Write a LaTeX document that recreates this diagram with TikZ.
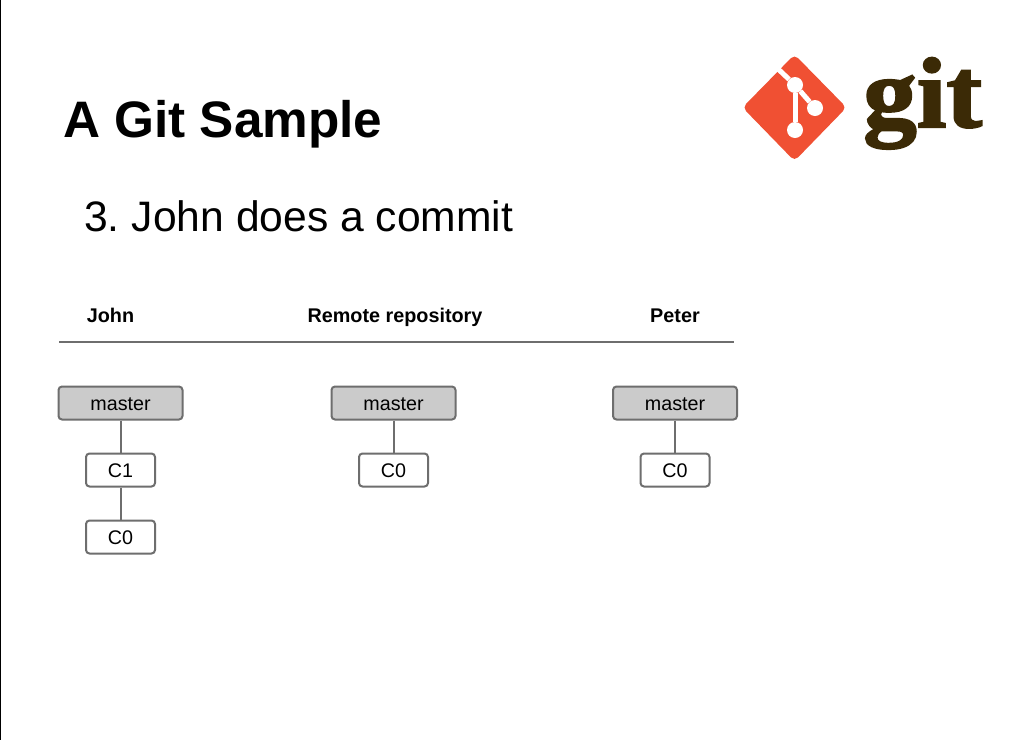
\documentclass[tikz,border=0pt]{standalone}
\usepackage{fontspec}
\setmainfont{Liberation Sans}
\newfontfamily\logofont{Liberation Serif}[BoldFeatures={FakeBold=2}]
\definecolor{gitred}{HTML}{F05033}
\definecolor{gitbrown}{HTML}{3B2A06}
\definecolor{edgegray}{HTML}{6E6E6E}
\definecolor{branchfill}{HTML}{CBCBCB}
\tikzset{
  x=1pt,y=-1pt,
  boxbase/.style={draw=edgegray,line width=2pt,rounded corners=3.5pt,inner sep=0pt,font=\fontsize{19.7}{24}\selectfont,text=black,text height=14.6pt,text depth=0pt},
  branchbox/.style={boxbase,fill=branchfill,minimum width=124pt,minimum height=33pt},
  commitbox/.style={boxbase,fill=white,minimum width=69pt,minimum height=33pt},
  link/.style={draw=edgegray,line width=2pt},
  header/.style={font=\bfseries\fontsize{19.8}{24}\selectfont,text=black,inner sep=0pt,anchor=base},
  logoline/.style={draw=white,line width=5pt},
  logodot/.style={circle,fill=white,minimum size=16pt,inner sep=0pt},
}
\begin{document}
\begin{tikzpicture}
\useasboundingbox (0,0) rectangle (1024,740);
\fill[white] (0,0) rectangle (1024,740);
\draw[black,line width=1.2pt] (0.6,0) -- (0.6,740);
% title
\node[anchor=base west,inner sep=0pt,font=\bfseries\fontsize{51.3}{60}\selectfont] (title) at (63,137) {A Git Sample};
\node[anchor=base west,inner sep=0pt,font=\fontsize{42.6}{52}\selectfont] (subtitle) at (84,231) {3.\kern-3.5pt{} John does a commit};
% logo
\fill[gitred,rounded corners=5pt] (794.5,54.5) -- (846.5,107.5) -- (794.5,161) -- (742.5,107.5) -- cycle;
\node[logodot] (d1) at (795,85) {};
\node[logodot] (d2) at (815,108) {};
\node[logodot] (d3) at (795,130) {};
\coordinate (d0) at (776,67);
\draw[logoline] (d0) -- (d1);
\draw[logoline] (d1) -- (d2);
\draw[logoline] (d1) -- (d3);
\node[anchor=base west,inner sep=0pt,text=gitbrown,xscale=1.07,font=\logofont\bfseries\fontsize{100}{110}\selectfont] (logo) at (863,127) {git};
% headers
\node[header] (john) at (110.5,322) {John};
\node[header] (remote) at (395,322) {Remote repository};
\node[header] (peter) at (675,322) {Peter};
\coordinate (ruleL) at (59,342);
\coordinate (ruleR) at (734,342);
\draw[link] (ruleL) -- (ruleR);
% John
\node[branchbox] (m1) at (120.5,403) {master};
\node[commitbox] (c1) at (120.5,470) {C1};
\node[commitbox] (c0a) at (120.5,537) {C0};
\draw[link] (m1) -- (c1);
\draw[link] (c1) -- (c0a);
% Remote
\node[branchbox] (m2) at (393.5,403) {master};
\node[commitbox] (c0b) at (393.5,470) {C0};
\draw[link] (m2) -- (c0b);
% Peter
\node[branchbox] (m3) at (675,403) {master};
\node[commitbox] (c0c) at (675,470) {C0};
\draw[link] (m3) -- (c0c);
\end{tikzpicture}
\end{document}
